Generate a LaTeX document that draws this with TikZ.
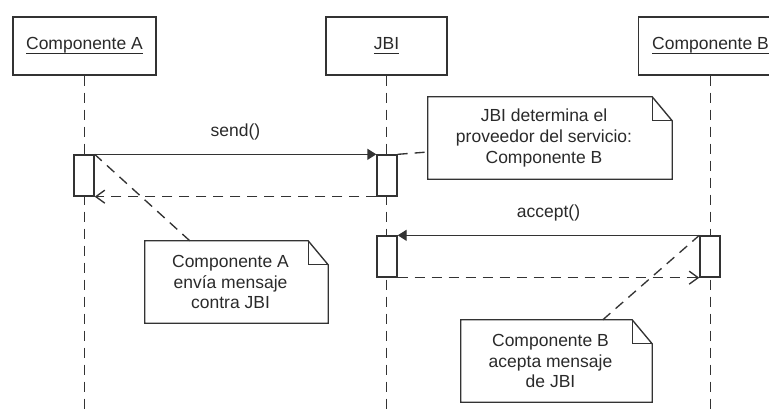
\documentclass[tikz,border=0pt]{standalone}
\usepackage{fontspec}
\setmainfont{Liberation Sans}
\usetikzlibrary{calc,arrows.meta}

\definecolor{ink}{HTML}{333333}
\definecolor{txt}{HTML}{2A2A2A}

% underlined object name, with a rule a little below the baseline
\newcommand\objname[1]{\setbox0\hbox{#1}\rlap{\rule[-4.6pt]{\wd0}{1.2pt}}\box0}

% outline of a UML note with a folded top-right corner
\newcommand\notefold[1]{%
  \draw[notepen] (#1.north west) -- ($(#1.north east)+(-20,0)$)
    -- ($(#1.north east)+(0,24)$) -- (#1.south east) -- (#1.south west) -- cycle;
  \draw[notepen] ($(#1.north east)+(-20,0)$) -- ($(#1.north east)+(-20,24)$)
    -- ($(#1.north east)+(0,24)$);}

\begin{document}
\begin{tikzpicture}[x=1pt,y=-1pt,
  every node/.style={font=\fontsize{17.5}{20.7}\selectfont, text=txt},
  pen/.style={draw=ink, line width=1.35pt},
  notepen/.style={pen, line join=miter},
  obj/.style={pen, fill=white, minimum height=58pt, inner sep=0pt},
  life/.style={pen, dash pattern=on 10pt off 7pt},
  act/.style={pen, fill=white, minimum width=20pt, minimum height=41pt, inner sep=0pt},
  call/.style={pen, -{Triangle[length=9pt,width=11pt]}},
  reply/.style={pen, dash pattern=on 10pt off 7pt, -{Straight Barb[length=9pt,width=13pt]}},
  tie/.style={pen, dash pattern=on 10pt off 7pt},
  note/.style={minimum width=#1, minimum height=82pt, inner sep=0pt},
  msg/.style={anchor=base, yshift=18pt, inner sep=0pt}
]
\clip (0,0) rectangle (769,412);

% objects and their lifelines
\node[obj, minimum width=143pt] (cA) at (84.5,46) {\objname{Componente A}};
\node[obj, minimum width=121pt] (jbi) at (386.5,46) {\objname{JBI}};
\node[obj, minimum width=144pt] (cB) at (710.5,46) {\objname{Componente B}};
\coordinate (endA) at (84.5,420);
\coordinate (endJ) at (386.5,420);
\coordinate (endB) at (710.5,420);
\draw[life] (cA) -- (endA);
\draw[life] (jbi) -- (endJ);
\draw[life] (cB) -- (endB);

% activation bars
\node[act] (actA) at (84,175.5) {};
\node[act] (actJ1) at (387,175.5) {};
\node[act] (actJ2) at (387,256.5) {};
\node[act] (actB) at (710,256.5) {};

% messages
\draw[call] (actA.north east) -- node[msg] {send()} (actJ1.north west);
\draw[reply] (actJ1.south west) -- (actA.south east);
\draw[call] (actB.north west) -- node[msg] {accept()} (actJ2.north east);
\draw[reply] (actJ2.south east) -- (actB.south west);

% notes
\node[note=244pt, label={[align=center, xshift=-6pt]center:{JBI determina el\\proveedor del servicio:\\Componente B}}] (nJ) at (550,138) {};
\node[note=183pt, label={[align=center, xshift=-6pt]center:{Componente A\\envía mensaje\\contra JBI}}] (nA) at (236.5,282) {};
\node[note=191pt, label={[align=center, xshift=-6pt]center:{Componente B\\acepta mensaje\\de JBI}}] (nB) at (556.5,361) {};
\notefold{nJ}
\notefold{nA}
\notefold{nB}

% note anchors
\coordinate (tJ) at ($(nJ.west)+(0,14)$);
\coordinate (tA) at ($(nA.north west)+(45,0)$);
\coordinate (tB) at ($(nB.north west)+(142,0)$);
\draw[tie] (actJ1.north east) -- (tJ);
\draw[tie] (tA) -- (actA.north east);
\draw[tie] (tB) -- (actB.north west);
\end{tikzpicture}
\end{document}
